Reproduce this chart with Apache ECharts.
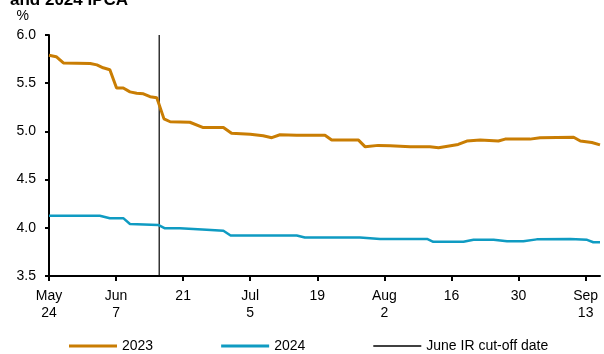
<!DOCTYPE html>
<html>
<head>
<meta charset="utf-8">
<script src="https://cdn.jsdelivr.net/npm/echarts@6/dist/echarts.min.js"></script>
<style>
  html, body { margin: 0; padding: 0; background: #ffffff; }
  #chart { width: 604px; height: 354px; }
</style>
</head>
<body>
<div id="chart"></div>
<script>
// Days counted from 24 May; x-axis tick positions and their labels
const tickDays = [0, 14, 28, 42, 56, 70, 84, 98, 112];
const tickLabels = ['May\n24', 'Jun\n7', '21', 'Jul\n5', '19', 'Aug\n2', '16', '30', 'Sep\n13'];

// 2023 IPCA expectation (%)
const days2023 = [0, 1.5, 3, 8.6, 10, 11.3, 12.7, 14.1, 15.5, 16.9, 18.3, 19.7, 21.1, 22.5, 24, 25.3, 29.4, 32.2, 36.4, 38.1, 42, 44.7, 46.5, 48.2, 51.7, 57.6, 59, 64.6, 66, 68.7, 71.2, 75.4, 79.5, 81.3, 85.4, 87.2, 90, 93.8, 95.2, 100.4, 102.5, 109.5, 110.9, 113.3, 115];
const ipca2023 = [5.79, 5.775, 5.71, 5.705, 5.69, 5.66, 5.64, 5.45, 5.45, 5.41, 5.395, 5.39, 5.36, 5.35, 5.13, 5.10, 5.095, 5.04, 5.04, 4.98, 4.97, 4.955, 4.935, 4.965, 4.96, 4.96, 4.91, 4.91, 4.84, 4.855, 4.85, 4.84, 4.84, 4.83, 4.865, 4.90, 4.91, 4.90, 4.92, 4.92, 4.935, 4.94, 4.90, 4.885, 4.86];

// 2024 IPCA expectation (%)
const days2024 = [0, 10.6, 12.7, 15.5, 16.9, 22.8, 24.2, 27.3, 32.9, 36.4, 37.9, 51.7, 53.4, 64.9, 69.1, 78.9, 80.2, 86.5, 88.6, 92.8, 95.6, 99, 101.8, 108.8, 112.3, 113.6, 115];
const ipca2024 = [4.125, 4.125, 4.10, 4.10, 4.04, 4.03, 3.995, 3.995, 3.98, 3.97, 3.92, 3.92, 3.90, 3.90, 3.885, 3.885, 3.855, 3.855, 3.875, 3.875, 3.86, 3.86, 3.88, 3.885, 3.875, 3.85, 3.85];

// June Inflation Report cut-off date (days from 24 May)
const cutoffDay = 23;

const yMin = 3.5, yMax = 6.0;
const zip = (xs, ys) => xs.map((x, i) => [x, ys[i]]);
const FONT = '"Liberation Sans", Arial, sans-serif';

// Legend keys: thick bar for the two series, thin rule for the cut-off line
const thickKey = 'path://M0,0H48V3H0Z';
const thinKey = 'path://M0,0H48V1.3H0Z';

const chart = echarts.init(document.getElementById('chart'), null, { renderer: 'canvas' });
chart.setOption({
  backgroundColor: '#ffffff',
  animation: false,
  textStyle: { fontFamily: FONT, color: '#000' },
  title: {
    text: 'and 2024 IPCA',
    left: 5,
    top: -13,
    textStyle: { fontFamily: FONT, fontSize: 17, fontWeight: 'bold', color: '#000' }
  },
  grid: { left: 49, right: 4, top: 35, bottom: 78, containLabel: false },
  legend: {
    left: 64,
    top: 334,
    itemWidth: 48,
    itemHeight: 3,
    itemGap: 68,
    symbolKeepAspect: true,
    textStyle: { fontFamily: FONT, fontSize: 14, color: '#000' },
    data: [
      { name: '2023', icon: thickKey },
      { name: '2024', icon: thickKey },
      { name: 'June IR cut-off date', icon: thinKey }
    ]
  },
  xAxis: {
    type: 'value',
    min: 0,
    max: 115,
    interval: 14,
    splitLine: { show: false },
    axisLine: { show: true, onZero: false, lineStyle: { color: '#000', width: 2 } },
    axisTick: { show: true, length: 5, customValues: tickDays, lineStyle: { color: '#000', width: 2 } },
    axisLabel: {
      customValues: tickDays,
      margin: 12,
      fontSize: 14,
      lineHeight: 17,
      color: '#000',
      fontFamily: FONT,
      formatter: v => {
        const i = tickDays.indexOf(Math.round(v));
        return i >= 0 ? tickLabels[i] : '';
      }
    }
  },
  yAxis: {
    type: 'value',
    min: yMin,
    max: yMax,
    interval: 0.5,
    name: '%',
    nameLocation: 'end',
    nameGap: 12,
    nameTextStyle: { fontFamily: FONT, fontSize: 14, color: '#000', align: 'right', padding: [0, 20, 0, 0] },
    splitLine: { show: false },
    axisLine: { show: true, lineStyle: { color: '#000', width: 2 } },
    axisTick: { show: true, length: 4, lineStyle: { color: '#000', width: 2 } },
    axisLabel: {
      margin: 13,
      fontSize: 14,
      color: '#000',
      fontFamily: FONT,
      formatter: v => v.toFixed(1)
    }
  },
  series: [
    {
      name: '2023',
      type: 'line',
      data: zip(days2023, ipca2023),
      symbol: 'none',
      lineStyle: { color: '#C97D03', width: 3 },
      itemStyle: { color: '#C97D03' },
      z: 3
    },
    {
      name: '2024',
      type: 'line',
      data: zip(days2024, ipca2024),
      symbol: 'none',
      lineStyle: { color: '#0F9BC2', width: 2.5 },
      itemStyle: { color: '#0F9BC2' },
      z: 3
    },
    {
      name: 'June IR cut-off date',
      type: 'line',
      data: [[cutoffDay, yMin], [cutoffDay, yMax]],
      symbol: 'none',
      lineStyle: { color: '#000', width: 1.2 },
      itemStyle: { color: '#000' },
      z: 2
    }
  ]
});
</script>
</body>
</html>
